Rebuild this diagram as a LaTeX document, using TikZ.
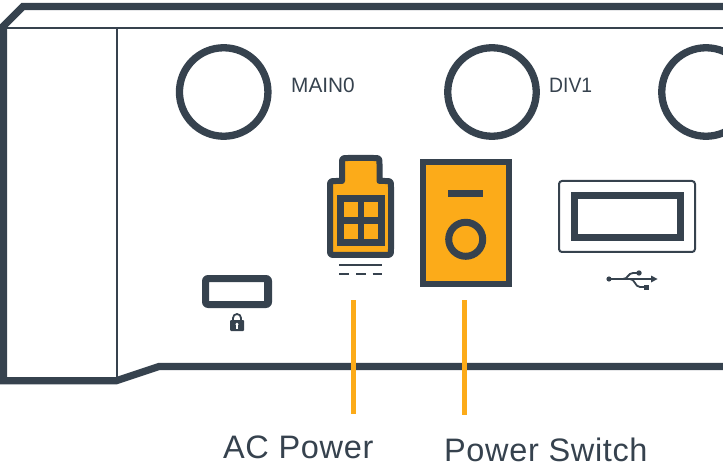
\documentclass[tikz,border=0pt]{standalone}
\usepackage{fontspec}
\setmainfont{Liberation Sans}
\newfontfamily\labelfont[LetterSpace=2]{Liberation Sans}
\newfontfamily\smallfont[LetterSpace=0]{Liberation Sans}
\definecolor{slate}{HTML}{36424E}
\definecolor{amber}{HTML}{FCAB19}
\tikzset{
  frame/.style={draw=slate,line width=7.2pt,line join=miter},
  thin frame/.style={draw=slate,line width=2.5pt},
  antenna/.style={draw=slate,line width=7.3pt,circle,minimum size=88.5pt,inner sep=0pt,outer sep=0pt},
  leader/.style={draw=amber,line width=5pt},
  small label/.style={text=slate,font=\smallfont\fontsize{20.8}{24}\selectfont,anchor=base west,inner sep=0pt},
  big label/.style={text=slate,font=\labelfont\fontsize{32.5}{36}\selectfont,anchor=base west,inner sep=0pt},
  icon/.style={draw=slate,line width=6pt,fill=amber},
}
\begin{document}
\begin{tikzpicture}[x=1pt,y=-1pt]
\useasboundingbox (0,0) rectangle (723,465);
\clip (0,0) rectangle (723,465);
% chassis
\draw[frame] (723,6.5) -- (23,6.5) -- (3.5,26) -- (3.5,380.8) -- (116,380.8) -- (159,366.5) -- (723,366.5);
\draw[thin frame] (5,28) -- (723,28);
\draw[slate,line width=2pt] (117,28) -- (117,378);
% antennas
\node[antenna] (main) at (223.7,92) {};
\node[antenna] (div) at (492,92) {};
\node[antenna] (third) at (706,92) {};
\node[small label] (mainlabel) at (291,93) {MAIN0};
\node[small label] (divlabel) at (549,93) {\scalebox{0.93}[1]{DIV1}};
% AC power connector
\draw[icon,line join=round] (342,181) -- (342,164) .. controls (342,158) .. (348,158) -- (373.5,158) .. controls (379.5,158) .. (379.5,164) -- (379.5,181)
  -- (385,181) .. controls (391,181) .. (391,187) -- (391,249) .. controls (391,255) .. (385,255) -- (336,255) .. controls (330,255) .. (330,249) -- (330,187) .. controls (330,181) .. (336,181) -- cycle;
\fill[slate] (337,195) rectangle (385,246);
\fill[amber] (344,202.3) rectangle (357.5,217.3);
\fill[amber] (364.3,202.3) rectangle (377.8,217.3);
\fill[amber] (344,224.3) rectangle (357.5,239);
\fill[amber] (364.3,224.3) rectangle (377.8,239);
\draw[slate,line width=2.5pt] (339,265) -- (382,265);
\draw[slate,line width=2.8pt] (339,274) -- (349,274) (356,274) -- (366,274) (372.6,274) -- (382,274);
% power switch
\node[icon,rectangle,inner sep=0pt,outer sep=0pt,minimum width=86pt,minimum height=122pt] (switch) at (465.5,223) {};
\fill[slate] (448,190) rectangle (483,197);
\draw[slate,line width=7pt] (465.7,239.3) circle (17pt);
% USB
\draw[slate,line width=2pt,rounded corners=3pt] (559,181) rectangle (695,252);
\draw[slate,line width=7pt] (574.5,195.5) rectangle (680.5,237.5);
\fill[slate] (609,279) circle (2.6pt);
\draw[slate,line width=1.8pt] (609,279) -- (652,279);
\fill[slate] (657.5,279) -- (651,275.5) -- (651,282.5) -- cycle;
\draw[slate,line width=1.8pt] (623,279) .. controls (628,279) and (628,273) .. (633,273) -- (639,273);
\fill[slate] (639,273) circle (2.7pt);
\draw[slate,line width=1.8pt] (630,279) .. controls (635,279) and (635,287) .. (640,287) -- (645,287);
\fill[slate] (644,285) rectangle (649,290);
% lock port
\fill[slate,even odd rule,rounded corners=6pt] (202,275) rectangle (272,308) [sharp corners] (209,282) rectangle (264,301);
\draw[slate,line width=1.8pt] (233,322) -- (233,318) arc[start angle=180,end angle=0,radius=4pt] -- (241,322);
\fill[slate,rounded corners=1pt] (230,320) rectangle (244,331);
\fill[white] (237,324.2) circle (1.6pt);
\fill[white] (236.3,324.5) rectangle (237.7,328.5);
% leaders and labels
\coordinate (acTop) at (353,300);
\coordinate (acEnd) at (353,414);
\coordinate (swTop) at (464,300);
\coordinate (swEnd) at (464,415);
\draw[leader] (acTop) -- (acEnd);
\draw[leader] (swTop) -- (swEnd);
\node[big label] (aclabel) at (223,458) {AC Power};
\node[big label] (swlabel) at (444,461) {Power Switch};
\end{tikzpicture}
\end{document}
